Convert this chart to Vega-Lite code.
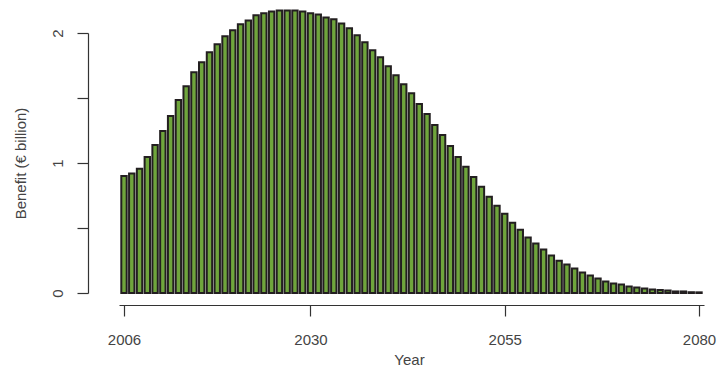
{
  "$schema": "https://vega.github.io/schema/vega-lite/v6.json",
  "width": 585,
  "height": 260,
  "autosize": {"type": "none"},
  "padding": {"left": 119, "top": 33, "right": 17, "bottom": 75},
  "background": "white",
  "data": {
    "values": [
      {"year": 2006, "benefit": 0.900},
      {"year": 2007, "benefit": 0.920},
      {"year": 2008, "benefit": 0.955},
      {"year": 2009, "benefit": 1.047},
      {"year": 2010, "benefit": 1.139},
      {"year": 2011, "benefit": 1.246},
      {"year": 2012, "benefit": 1.361},
      {"year": 2013, "benefit": 1.484},
      {"year": 2014, "benefit": 1.591},
      {"year": 2015, "benefit": 1.698},
      {"year": 2016, "benefit": 1.775},
      {"year": 2017, "benefit": 1.852},
      {"year": 2018, "benefit": 1.913},
      {"year": 2019, "benefit": 1.975},
      {"year": 2020, "benefit": 2.021},
      {"year": 2021, "benefit": 2.067},
      {"year": 2022, "benefit": 2.097},
      {"year": 2023, "benefit": 2.136},
      {"year": 2024, "benefit": 2.151},
      {"year": 2025, "benefit": 2.166},
      {"year": 2026, "benefit": 2.174},
      {"year": 2027, "benefit": 2.174},
      {"year": 2028, "benefit": 2.174},
      {"year": 2029, "benefit": 2.166},
      {"year": 2030, "benefit": 2.151},
      {"year": 2031, "benefit": 2.143},
      {"year": 2032, "benefit": 2.120},
      {"year": 2033, "benefit": 2.105},
      {"year": 2034, "benefit": 2.074},
      {"year": 2035, "benefit": 2.036},
      {"year": 2036, "benefit": 1.982},
      {"year": 2037, "benefit": 1.929},
      {"year": 2038, "benefit": 1.867},
      {"year": 2039, "benefit": 1.813},
      {"year": 2040, "benefit": 1.744},
      {"year": 2041, "benefit": 1.675},
      {"year": 2042, "benefit": 1.606},
      {"year": 2043, "benefit": 1.537},
      {"year": 2044, "benefit": 1.453},
      {"year": 2045, "benefit": 1.376},
      {"year": 2046, "benefit": 1.292},
      {"year": 2047, "benefit": 1.216},
      {"year": 2048, "benefit": 1.131},
      {"year": 2049, "benefit": 1.047},
      {"year": 2050, "benefit": 0.971},
      {"year": 2051, "benefit": 0.893},
      {"year": 2052, "benefit": 0.817},
      {"year": 2053, "benefit": 0.740},
      {"year": 2054, "benefit": 0.671},
      {"year": 2055, "benefit": 0.610},
      {"year": 2056, "benefit": 0.541},
      {"year": 2057, "benefit": 0.487},
      {"year": 2058, "benefit": 0.426},
      {"year": 2059, "benefit": 0.380},
      {"year": 2060, "benefit": 0.334},
      {"year": 2061, "benefit": 0.288},
      {"year": 2062, "benefit": 0.249},
      {"year": 2063, "benefit": 0.219},
      {"year": 2064, "benefit": 0.188},
      {"year": 2065, "benefit": 0.157},
      {"year": 2066, "benefit": 0.134},
      {"year": 2067, "benefit": 0.111},
      {"year": 2068, "benefit": 0.088},
      {"year": 2069, "benefit": 0.073},
      {"year": 2070, "benefit": 0.065},
      {"year": 2071, "benefit": 0.050},
      {"year": 2072, "benefit": 0.042},
      {"year": 2073, "benefit": 0.035},
      {"year": 2074, "benefit": 0.027},
      {"year": 2075, "benefit": 0.023},
      {"year": 2076, "benefit": 0.019},
      {"year": 2077, "benefit": 0.012},
      {"year": 2078, "benefit": 0.012},
      {"year": 2079, "benefit": 0.006},
      {"year": 2080, "benefit": 0.005}
    ]
  },
  "mark": {
    "type": "bar",
    "width": 5.4,
    "fill": "#6fa53c",
    "stroke": "#231f20",
    "strokeWidth": 2,
    "clip": false
  },
  "encoding": {
    "x": {
      "field": "year",
      "type": "quantitative",
      "scale": {"domain": [2006, 2080], "nice": false, "zero": false},
      "axis": {
        "values": [2006, 2030, 2055, 2080],
        "format": "d",
        "title": "Year",
        "offset": 12,
        "tickSize": 11,
        "labelPadding": 28,
        "labelBaseline": "alphabetic",
        "labelFlush": false,
        "labelOverlap": false,
        "labelBound": false,
        "titleX": 290,
        "titleY": 59,
        "titleBaseline": "alphabetic",
        "titleAnchor": null
      }
    },
    "y": {
      "field": "benefit",
      "type": "quantitative",
      "scale": {"domain": [0, 2], "nice": false, "zero": true},
      "axis": {
        "values": [0, 0.5, 1, 1.5, 2],
        "labelExpr": "datum.value % 1 === 0 ? format(datum.value, 'd') : ''",
        "title": "Benefit (€ billion)",
        "offset": 31,
        "tickSize": 11,
        "labelAngle": -90,
        "labelAlign": "center",
        "labelBaseline": "alphabetic",
        "labelPadding": 15,
        "labelOverlap": false,
        "titleAngle": -90,
        "titleAlign": "center",
        "titleBaseline": "alphabetic",
        "titleX": -63,
        "titleY": 130
      }
    }
  },
  "config": {
    "view": {"stroke": null},
    "font": "Liberation Sans",
    "axis": {
      "grid": false,
      "domainColor": "#333333",
      "domainWidth": 1.2,
      "tickColor": "#333333",
      "tickWidth": 1.2,
      "labelColor": "#444444",
      "titleColor": "#444444",
      "labelFont": "Liberation Sans",
      "titleFont": "Liberation Sans",
      "labelFontSize": 15,
      "titleFontSize": 15,
      "titleFontWeight": "normal"
    }
  }
}
